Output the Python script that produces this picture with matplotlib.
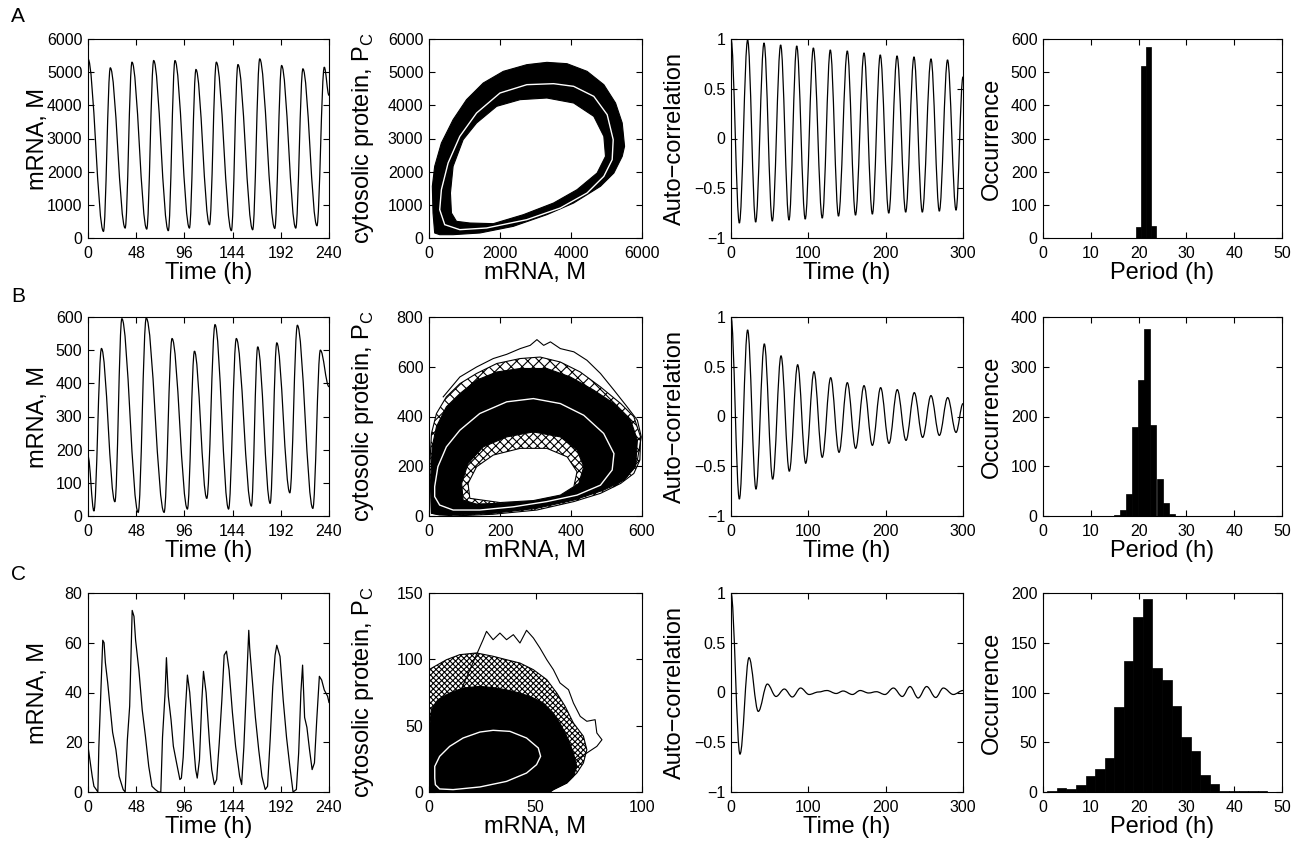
import matplotlib
matplotlib.use('Agg')
import matplotlib.pyplot as plt
from matplotlib.path import Path
from matplotlib.patches import PathPatch

# ---------------- data ----------------
# column 1: mRNA time series (peaks / troughs)
ts_a_t = [0, 15.4, 22.2, 37, 43.8, 58.5, 65.4, 80, 86.6, 101, 107.5, 121, 127.8, 142.8,
          149.3, 164, 171, 186, 192.8, 206.9, 214, 228, 235.3, 240]
ts_a_v = [5400, 200, 5130, 300, 5300, 270, 5350, 220, 5350, 300, 5080, 400, 5300, 220,
          5230, 250, 5400, 290, 5200, 300, 5100, 370, 5150, 4300]

ts_b_t = [0, 5.9, 13.4, 26.8, 33.7, 50, 58, 75.8, 83.7, 99, 106, 118.3, 126.5, 140,
          147.7, 162.7, 169, 181.4, 188, 201, 208.5, 223.9, 231.4, 240]
ts_b_v = [180, 15, 505, 43, 595, 11, 597, 11, 535, 21, 497, 53, 577, 21,
          535, 30, 510, 38, 522, 70, 575, 23, 500, 390]

ts_c_t = [0, 4.2, 5.9, 8.2, 9.8, 10.8, 13, 14.7, 16, 17.3, 19.6, 24.5, 27.8, 31, 35, 37,
          39.2, 41.5, 44, 45.8, 47.4, 50.7, 54, 57.2, 60.5, 63.7, 67, 70.3, 72.5, 74.2,
          76.8, 78.1, 80, 82.7, 85, 88.2, 91.5, 93, 94.8, 97, 99, 101.3, 104.6, 107.2,
          108.8, 111, 113.4, 115, 117.6, 121, 123.2, 125.8, 128.1, 130.7, 133.3, 135.6,
          137.9, 140.5, 143.8, 147, 151, 153, 155.2, 157.8, 160.1, 161, 163.4, 166.7, 170,
          173.2, 176.5, 178.8, 181.4, 184, 186.3, 188, 191.2, 194.4, 197.7, 201, 204.2,
          207.5, 209.8, 212, 213.7, 215.7, 218, 220.6, 223.2, 225.5, 227.8, 230.4, 232.7,
          235.3, 238.6, 240]
ts_c_v = [18.4, 6.3, 2.3, 1, 0, 18, 42.5, 61, 60, 52, 44, 24, 17, 6.3, 1, 0,
          21, 34.5, 73, 70.6, 61, 49, 33, 22.4, 10.3, 2.3, 1, 0, 0, 22,
          40, 54, 38.5, 29, 18.4, 11.7, 5, 5.6, 14, 33, 47, 40, 22, 9,
          5.6, 13, 37, 48.5, 40, 19.7, 9, 3, 5, 19.7, 37, 55,
          56.6, 49, 32, 18.4, 6.3, 3, 18, 42.5, 65, 58, 46, 30, 17,
          6.3, 1, 2.3, 21, 42.5, 55, 59, 54.5, 37, 22, 10.3, 0,
          1, 15.7, 40, 51, 30, 26, 17, 9, 11.7, 29, 46.5, 45,
          41, 38.5, 36]

# column 2: phase plane (band outlines, hole outlines, white limit cycle, stray loops)
pa_out_m = [160, 113, 94, 160, 349, 679, 1057, 1528, 2094, 2755, 3321, 3887, 4453, 4925,
            5255, 5443, 5509, 5443, 5208, 4830, 4075, 3321, 2377, 1434, 679, 302]
pa_out_p = [151, 754, 1558, 2161, 2864, 3568, 4171, 4673, 5025, 5226, 5296, 5256, 5025, 4623,
            4070, 3467, 2764, 2462, 1960, 1558, 1055, 704, 352, 151, 100, 100]
pa_in_m = [632, 604, 679, 962, 1340, 1906, 2566, 3321, 4075, 4642, 4925, 4972, 4736, 4170,
           3509, 2660, 1811, 1151, 774]
pa_in_p = [754, 1357, 2161, 2965, 3467, 3970, 4171, 4221, 4070, 3668, 3065, 2462, 1960, 1457,
           1055, 704, 432, 452, 503]
pa_lc_m = [302, 349, 538, 868, 1340, 2000, 2755, 3509, 4075, 4642, 5019, 5189, 5160, 4925,
           4453, 3698, 2755, 1623, 868, 443]
pa_lc_p = [854, 1457, 2261, 3065, 3769, 4372, 4623, 4653, 4573, 4271, 3719, 2965, 2362, 1859,
           1357, 905, 553, 302, 251, 402]

pb_sp_m = [7, 2, 7, 21, 49, 87, 134, 191, 257, 313, 370, 426, 483, 540, 577, 596, 594, 577,
           540, 483, 408, 304, 181, 68]
pb_sp_p = [11, 198, 332, 412, 479, 532, 573, 613, 633, 639, 619, 579, 519, 452, 399, 318, 225,
           171, 131, 91, 58, 24, 7, 0]
pb_out_m = [7, 5, 9, 21, 49, 87, 134, 191, 257, 332, 398, 464, 521, 568, 587, 582, 549, 492,
            408, 304, 181, 87, 30]
pb_out_p = [11, 144, 278, 359, 439, 492, 546, 579, 593, 593, 559, 506, 452, 385, 305, 198, 144,
            104, 64, 31, 11, 4, 4]
pb_in_m = [96, 92, 110, 153, 219, 294, 370, 417, 436, 422, 379, 294, 200, 134]
pb_in_p = [64, 131, 211, 278, 318, 338, 318, 265, 198, 131, 91, 64, 51, 48]
pb_core_m = [115, 110, 134, 181, 257, 332, 389, 417, 408, 370, 294, 200]
pb_core_p = [71, 131, 198, 245, 272, 272, 238, 178, 118, 84, 62, 54]
pb_lc_m = [16, 25, 49, 87, 143, 219, 294, 370, 436, 492, 521, 516, 483, 417, 332, 238, 143,
           68, 30, 16]
pb_lc_p = [118, 198, 278, 345, 412, 459, 472, 452, 405, 332, 251, 185, 124, 84, 58, 37, 24,
           24, 44, 78]
pb_top_m = [40, 87, 134, 181, 219, 257, 285, 304, 323, 342, 370, 408, 445, 483, 521, 558, 587,
            598, 587, 558, 521]
pb_top_p = [479, 559, 599, 633, 650, 673, 686, 709, 686, 700, 673, 660, 626, 573, 506, 439, 385,
            318, 225, 158, 118]

pc_sp_m = [0, 0, 2.7, 8.2, 14.4, 22.3, 30.1, 36.4, 42.7, 49, 55.3, 60, 63.9, 67.8, 72.5, 74.1,
           72.5, 69.4, 64.7, 58.4, 56.8]
pc_sp_p = [0, 92.2, 94.7, 99.7, 103.5, 104.8, 102.3, 99.7, 97.2, 92.2, 84.7, 74.6, 64.6, 52, 42,
           31.9, 21.9, 14.3, 6.8, 1.8, 0]
pc_out_m = [0, 0, 1.1, 4.2, 9.7, 16, 23.9, 31.7, 39.6, 47.4, 53.7, 58.4, 62.3, 65.5, 67.8, 69.4,
            67.8, 64.7, 58.4, 56.8]
pc_out_p = [0, 44.5, 62, 69.6, 74.6, 78.4, 79.6, 78.4, 75.9, 72.1, 67.1, 59.5, 49.5, 39.4, 29.4,
            19.3, 11.8, 6.8, 1.8, 0]
pc_lc_m = [2.7, 2.7, 5, 9.7, 16, 23.9, 30.1, 38, 45.8, 51.3, 52.4, 50.5, 45.8, 36.4, 23.9, 11.3,
           5, 3]
pc_lc_p = [10.6, 19.3, 26.9, 34.4, 40.7, 45.2, 46.5, 45.7, 40.7, 33.2, 26.9, 20.6, 14.3, 8, 3.8,
           1.8, 2.3, 5.5]
pc_top_m = [14.4, 19.2, 25.4, 27, 30.1, 33.3, 36.4, 39.6, 42.7, 45.8, 49, 52.1, 55.3, 58.4, 61.5,
            65.5, 67.8, 71, 74.1, 78, 78.8, 81.2, 78.8, 74.1, 69.4]
pc_top_p = [74.6, 92.2, 114.8, 121.1, 114.8, 119.8, 114.8, 118.6, 112.3, 121.9, 116.1, 108.5,
            99.7, 92.2, 82.2, 77.1, 67.1, 57, 53.3, 54.5, 44.5, 39.4, 34.4, 29.4, 24.4]

# column 3: auto-correlation extrema
ac_a_t = [0, 10.8, 21.5, 31.9, 42.7, 53.4, 64.2, 75, 85, 96, 106.5, 118, 128.4, 139, 150.4, 161,
          172, 182.8, 193, 204, 214.7, 225.9, 236.6, 247.4, 258.6, 269.4, 280, 291, 300]
ac_a_v = [1, -0.85, 0.99, -0.84, 0.96, -0.83, 0.94, -0.82, 0.93, -0.81, 0.91, -0.80, 0.89, -0.78,
          0.88, -0.77, 0.86, -0.76, 0.84, -0.75, 0.83, -0.74, 0.82, -0.74, 0.80, -0.73, 0.79,
          -0.72, 0.62]
ac_b_t = [0, 10.8, 21.5, 32.3, 43.1, 53.9, 64.7, 75.4, 86.2, 96.6, 107.3, 118, 128.9, 139.7,
          150.4, 161.2, 172, 182.8, 193.5, 204.3, 215, 226.3, 237, 247.8, 258.6, 269.4, 280.2,
          291, 300]
ac_b_v = [1, -0.83, 0.87, -0.73, 0.73, -0.63, 0.61, -0.55, 0.52, -0.47, 0.45, -0.41, 0.39, -0.36,
          0.34, -0.32, 0.31, -0.29, 0.29, -0.27, 0.27, -0.24, 0.24, -0.21, 0.21, -0.19, 0.19,
          -0.16, 0.13]
ac_c_t = [0, 11.6, 23.3, 35.3, 47, 58.2, 69, 79.3, 90, 101, 113, 124, 136, 145, 157, 167, 178,
          188, 199, 210, 221.5, 231.5, 242, 253, 264.7, 274.6, 287.5, 300]
ac_c_v = [1, -0.62, 0.35, -0.19, 0.085, -0.04, 0.035, -0.045, 0.045, -0.02, 0.005, 0.02, -0.01,
          0.015, -0.02, 0.02, -0.005, 0.008, -0.02, 0.045, -0.04, 0.06, -0.055, 0.06, -0.05,
          0.045, -0.02, 0.02]

# column 4: period histograms
hist_a_c = [19.93, 20.98, 22.03, 23.08]
hist_a_n = [32, 520, 575, 35]
hist_b_c = [15.5, 16.8, 18.05, 19.3, 20.6, 21.85, 23.1, 24.4, 25.65, 26.9]
hist_b_n = [3, 13, 45, 179, 274, 375, 182, 75, 26, 5]
hist_c_c = [1.9, 3.9, 5.9, 7.9, 9.9, 11.9, 13.9, 15.9, 17.9, 19.9, 21.9, 23.9, 25.9, 27.9,
            29.9, 31.9, 33.9, 35.9, 37.9, 39.9, 41.9, 43.9, 45.9]
hist_c_n = [1, 4, 3, 7, 16, 23, 34, 85, 132, 176, 194, 125, 113, 86, 55, 41, 17, 8, 1, 1, 1, 1, 1]

# ---------------- figure ----------------
plt.rcParams['font.family'] = ['Liberation Sans', 'DejaVu Sans']
plt.rcParams['hatch.linewidth'] = 0.8
W, H = 1302, 842
fig = plt.figure(figsize=(W / 100, H / 100), dpi=100)

cols = [(88, 329), (429, 642), (731, 963), (1043, 1282)]
rows = [(39, 238), (317, 516), (593, 792)]
ylab_x = [-0.207, -0.31, -0.241, -0.213]


def make_axes(r, c):
    (x0, x1), (y0, y1) = cols[c], rows[r]
    return fig.add_axes([x0 / W, 1 - y1 / H, (x1 - x0) / W, (y1 - y0) / H])


def smooth_line(ax, t, v, k=0.36):
    # curve through the read extrema, flat at each extremum
    verts = [(t[0], v[0])]
    codes = [Path.MOVETO]
    for i in range(1, len(t)):
        dt = t[i] - t[i - 1]
        verts += [(t[i - 1] + k * dt, v[i - 1]), (t[i] - k * dt, v[i]), (t[i], v[i])]
        codes += [Path.CURVE4] * 3
    ax.add_patch(PathPatch(Path(verts, codes), fill=False, ec='k', lw=0.9))


def style(ax, c, xlim, ylim, xticks, yticks, xlabel, ylabel, yticklabels=None):
    ax.set_xlim(xlim)
    ax.set_ylim(ylim)
    ax.set_xticks(xticks)
    ax.set_yticks(yticks)
    if yticklabels is not None:
        ax.set_yticklabels(yticklabels)
    ax.tick_params(direction='in', length=4, width=0.8, top=True, right=True, labelsize=11.5)
    ax.tick_params(axis='x', pad=5.5)
    ax.tick_params(axis='y', pad=4)
    for s in ax.spines.values():
        s.set_linewidth(0.8)
    ax.set_xlabel(xlabel, fontsize=17, va='center')
    ax.xaxis.set_label_coords(0.5, -0.178)
    ax.set_ylabel(ylabel, fontsize=17, va='center')
    ax.yaxis.set_label_coords(ylab_x[c], 0.5)


ts = [(ts_a_t, ts_a_v, [0, 6000], range(0, 6001, 1000)),
      (ts_b_t, ts_b_v, [0, 600], range(0, 601, 100)),
      (ts_c_t, ts_c_v, [0, 80], range(0, 81, 20))]
acs = [(ac_a_t, ac_a_v), (ac_b_t, ac_b_v), (ac_c_t, ac_c_v)]
hists = [(hist_a_c, hist_a_n, 1.05, [0, 600], range(0, 601, 100)),
         (hist_b_c, hist_b_n, 1.27, [0, 400], range(0, 401, 100)),
         (hist_c_c, hist_c_n, 2.0, [0, 200], range(0, 201, 50))]
pc_label = 'cytosolic protein, P$_\\mathregular{C}$'

for r in range(3):
    # time series
    ax = make_axes(r, 0)
    t, v, ylim, yt = ts[r]
    if r < 2:
        smooth_line(ax, t, v)
    else:
        ax.plot(t, v, color='k', lw=0.9)
    style(ax, 0, [0, 240], ylim, range(0, 241, 48), yt, 'Time (h)', 'mRNA, M')

    # auto-correlation
    ax = make_axes(r, 2)
    t, v = acs[r]
    smooth_line(ax, t, v)
    style(ax, 2, [0, 300], [-1, 1], [0, 100, 200, 300], [-1, -0.5, 0, 0.5, 1],
          'Time (h)', 'Auto\u2212correlation',
          yticklabels=['\u22121', '\u22120.5', '0', '0.5', '1'])

    # period histogram
    ax = make_axes(r, 3)
    cen, cnt, w, ylim, yt = hists[r]
    ax.bar(cen, cnt, width=w, color='k', edgecolor='k', linewidth=0.5)
    style(ax, 3, [0, 50], ylim, range(0, 51, 10), yt, 'Period (h)', 'Occurrence')

# phase plane A
ax = make_axes(0, 1)
ax.fill(pa_out_m, pa_out_p, color='k', lw=0.8)
ax.fill(pa_in_m, pa_in_p, facecolor='w', edgecolor='k', lw=0.8)
ax.fill(pa_lc_m, pa_lc_p, facecolor='none', edgecolor='w', lw=1.0)
style(ax, 1, [0, 6000], [0, 6000], [0, 2000, 4000, 6000], range(0, 6001, 1000),
      'mRNA, M', pc_label)

# phase plane B
ax = make_axes(1, 1)
ax.fill(pb_sp_m, pb_sp_p, facecolor='w', edgecolor='k', hatch='xxx', lw=0.8)
ax.plot(pb_top_m, pb_top_p, color='k', lw=0.8)
ax.fill(pb_out_m, pb_out_p, color='k', lw=0.8)
ax.fill(pb_in_m, pb_in_p, facecolor='w', edgecolor='k', hatch='xxxx', lw=0.8)
ax.fill(pb_core_m, pb_core_p, facecolor='w', edgecolor='k', lw=0.8)
ax.fill(pb_lc_m, pb_lc_p, facecolor='none', edgecolor='w', lw=1.0)
style(ax, 1, [0, 600], [0, 800], [0, 200, 400, 600], range(0, 801, 200), 'mRNA, M', pc_label)

# phase plane C
ax = make_axes(2, 1)
ax.fill(pc_sp_m, pc_sp_p, facecolor='w', edgecolor='k', hatch='xxxxxx', lw=0.8)
ax.plot(pc_top_m, pc_top_p, color='k', lw=0.8)
ax.fill(pc_out_m, pc_out_p, color='k', lw=0.8)
ax.fill(pc_lc_m, pc_lc_p, facecolor='none', edgecolor='w', lw=1.0)
style(ax, 1, [0, 100], [0, 150], [0, 50, 100], [0, 50, 100, 150], 'mRNA, M', pc_label)

# panel letters
for letter, y in zip('ABC', [16, 297, 575]):
    fig.text(18 / W, 1 - y / H, letter, fontsize=15, ha='center', va='center')

fig.savefig('out.png', dpi=100)
